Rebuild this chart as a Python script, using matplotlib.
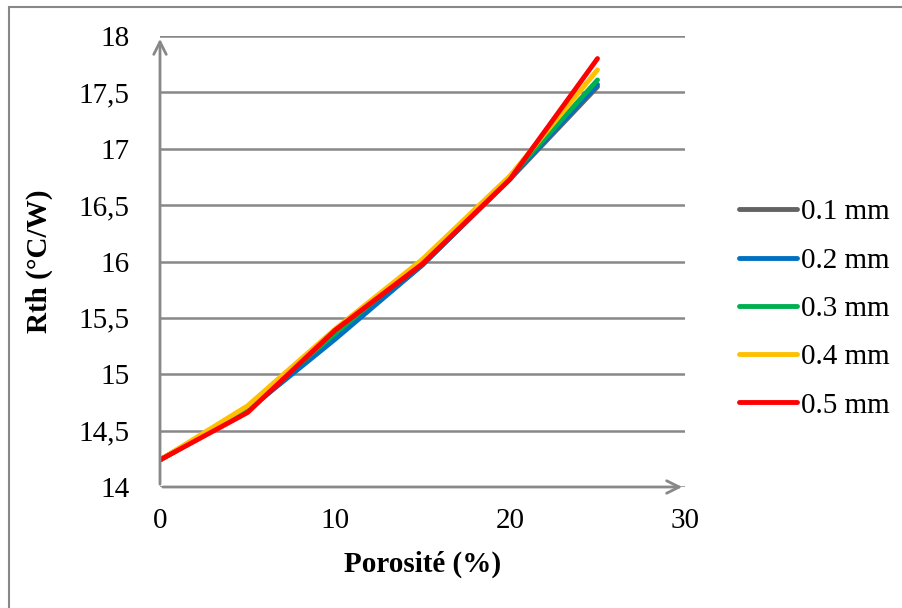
import matplotlib.pyplot as plt
from matplotlib.patches import Rectangle

plt.rcParams['font.family'] = ['Liberation Serif', 'DejaVu Serif']

porosite = [0, 5, 10, 15, 20, 25]
labels = ['0.1 mm', '0.2 mm', '0.3 mm', '0.4 mm', '0.5 mm']
colors = ['#636363', '#0070C0', '#00B050', '#FFC000', '#FF0000']
r_01 = [14.24, 14.68, 15.33, 15.97, 16.73, 17.55]
r_02 = [14.24, 14.68, 15.31, 15.97, 16.74, 17.57]
r_03 = [14.24, 14.70, 15.36, 16.01, 16.75, 17.61]
r_04 = [14.24, 14.72, 15.40, 16.02, 16.76, 17.70]
r_05 = [14.24, 14.66, 15.39, 15.98, 16.73, 17.80]
series = [r_01, r_02, r_03, r_04, r_05]

yticks = [14, 14.5, 15, 15.5, 16, 16.5, 17, 17.5, 18]
ytick_labels = ['14', '14,5', '15', '15,5', '16', '16,5', '17', '17,5', '18']
xticks = [0, 10, 20, 30]

GRAY = '#888888'
FS = 21

fig = plt.figure(figsize=(9.03, 6.08), dpi=100)
fig.patches.append(Rectangle((9 / 903, -0.1), 1.2, 1 - 7 / 608 + 0.1,
                             transform=fig.transFigure, fill=False,
                             edgecolor=GRAY, lw=1.5))
ax = fig.add_axes([160 / 903, 1 - 487 / 608, 525 / 903, 451 / 608])

for vals, lab, c in zip(series, labels, colors):
    ax.plot(porosite, vals, color=c, lw=3.5, label=lab,
            solid_capstyle='round', solid_joinstyle='round')

ax.set_xlim(0, 30)
ax.set_ylim(14, 18)
ax.set_xticks(xticks)
ax.set_yticks(yticks)
ax.set_yticklabels(ytick_labels)
ax.tick_params(length=0, labelsize=FS)
ax.tick_params(axis='y', pad=22)
ax.tick_params(axis='x', pad=15)
ax.grid(axis='y', color=GRAY, lw=1.8)
ax.set_axisbelow(True)
for sp in ax.spines.values():
    sp.set_visible(False)

# axis lines with open arrow heads
ax.annotate('', xy=(0, 1.0), xytext=(0, 0), xycoords='axes fraction',
            arrowprops=dict(arrowstyle='->,head_length=0.9,head_width=0.45',
                            color=GRAY, lw=2), annotation_clip=False)
ax.annotate('', xy=(1.0, 0), xytext=(0, 0), xycoords='axes fraction',
            arrowprops=dict(arrowstyle='->,head_length=0.9,head_width=0.45',
                            color=GRAY, lw=2), annotation_clip=False)

ax.set_xlabel('Porosité (%)', fontsize=FS, fontweight='bold', labelpad=12)
ax.set_ylabel('Rth (°C/W)', fontsize=FS, fontweight='bold', labelpad=18)

ax.legend(loc='center left', bbox_to_anchor=(1.08, 0.395), frameon=False,
          fontsize=FS, handlelength=2.0, handletextpad=0.15,
          labelspacing=0.75, borderaxespad=0)

fig.savefig('out.png', dpi=100)
